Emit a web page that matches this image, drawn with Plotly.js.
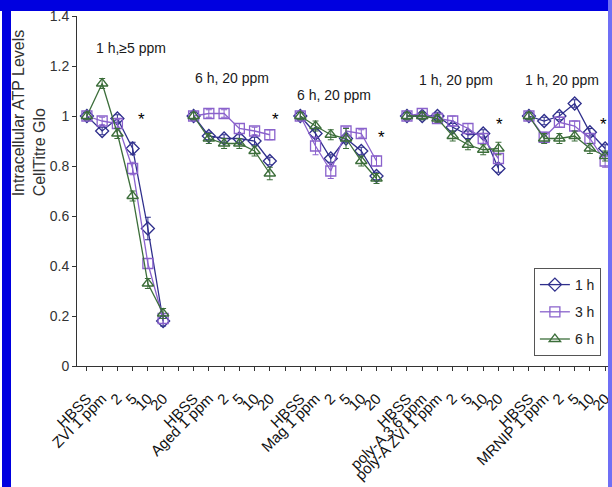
<!DOCTYPE html>
<html>
<head>
<meta charset="utf-8">
<script src="https://cdn.plot.ly/plotly-3.0.1.min.js"></script>
<style>
  html, body { margin: 0; padding: 0; background: #fff; }
  #wrap { position: relative; width: 612px; height: 487px; overflow: hidden; }
  #chart { position: absolute; left: 0; top: 0; width: 612px; height: 487px; }
  .bd { position: absolute; }
</style>
</head>
<body>
<div id="wrap">
  <div id="chart"></div>
  <div class="bd" style="left:0;top:0;width:612px;height:11px;background:#0000e0;"></div>
  <div class="bd" style="left:2px;top:0;width:9px;height:487px;background:#0000e0;"></div>
  <div class="bd" style="left:608px;top:0;width:4px;height:487px;background:#6f6ff5;"></div>
</div>
<script>
// Category tick labels ("" marks the empty slot between groups)
const categories = [
  "HBSS", "ZVI 1 ppm", "2", "5", "10", "20", "",
  "HBSS", "Aged 1 ppm", "2", "5", "10", "20", "",
  "HBSS", "Mag 1 ppm", "2", "5", "10", "20", "",
  "HBSS", "poly-A 3.6 ppm", "poly-A ZVI 1 ppm", "2", "5", "10", "20", "",
  "HBSS", "MRNIP 1 ppm", "2", "5", "10", "20"
];

// Series values (null = gap between groups)
const h1 = [1.00, 0.94, 0.99, 0.87, 0.55, 0.18, null,
            1.00, 0.92, 0.91, 0.91, 0.90, 0.82, null,
            1.00, 0.93, 0.83, 0.91, 0.86, 0.76, null,
            1.00, 1.00, 1.00, 0.955, 0.925, 0.93, 0.79, null,
            1.00, 0.98, 1.00, 1.05, 0.935, 0.87];
const h3 = [1.00, 0.98, 0.97, 0.79, 0.41, 0.19, null,
            1.00, 1.01, 1.01, 0.95, 0.94, 0.925, null,
            1.00, 0.88, 0.78, 0.94, 0.93, 0.82, null,
            1.00, 1.01, 0.99, 0.98, 0.95, 0.91, 0.83, null,
            1.00, 0.915, 0.975, 0.96, 0.91, 0.82];
const h6 = [1.00, 1.13, 0.93, 0.68, 0.33, 0.21, null,
            1.00, 0.91, 0.89, 0.89, 0.86, 0.77, null,
            1.00, 0.96, 0.925, 0.91, 0.82, 0.75, null,
            1.00, 1.00, 0.99, 0.92, 0.885, 0.865, 0.87, null,
            1.00, 0.91, 0.91, 0.92, 0.87, 0.84];

// Error bar half-widths
const e1 = [0.015, 0.015, 0.015, 0.025, 0.045, 0.02, null,
            0.015, 0.015, 0.015, 0.015, 0.015, 0.015, null,
            0.015, 0.015, 0.015, 0.015, 0.015, 0.015, null,
            0.015, 0.015, 0.015, 0.015, 0.015, 0.015, 0.015, null,
            0.015, 0.015, 0.015, 0.015, 0.015, 0.015];
const e3 = [0.015, 0.015, 0.015, 0.025, 0.02, 0.02, null,
            0.015, 0.015, 0.015, 0.02, 0.015, 0.02, null,
            0.015, 0.035, 0.03, 0.015, 0.015, 0.02, null,
            0.015, 0.02, 0.015, 0.02, 0.02, 0.02, 0.02, null,
            0.015, 0.02, 0.02, 0.02, 0.02, 0.025];
const e6 = [0.015, 0.02, 0.02, 0.02, 0.02, 0.02, null,
            0.015, 0.02, 0.02, 0.02, 0.02, 0.025, null,
            0.015, 0.02, 0.02, 0.04, 0.02, 0.02, null,
            0.015, 0.015, 0.015, 0.02, 0.02, 0.02, 0.025, null,
            0.015, 0.02, 0.02, 0.02, 0.02, 0.02];

const seriesNames = ["1 h", "3 h", "6 h"];

// Group titles and significance stars (positions in data units)
const groupTitles = ["1 h,\u22655 ppm", "6 h, 20 ppm", "6 h, 20 ppm", "1 h, 20 ppm", "1 h, 20 ppm"];
const groupTitleX = [2.86, 9.5, 16.2, 24.2, 31.2];
const groupTitleY = [1.272, 1.152, 1.084, 1.146, 1.146];
const starX = [3.55, 12.4, 19.3, 27.1, 33.9];
const starY = [0.985, 0.985, 0.915, 0.965, 0.965];

const xs = categories.map((c, i) => i);

const colors = ["#2f2f8c", "#8a62cc", "#3c6e3a"];
const symbols = ["diamond-open", "square-open", "triangle-up-open"];
const vals = [h1, h3, h6];
const errs = [e1, e3, e6];

const traces = vals.map((v, k) => ({
  type: "scatter",
  mode: "lines+markers",
  name: seriesNames[k],
  legendgroup: "g" + k,
  x: xs,
  y: v,
  connectgaps: false,
  line: { color: colors[k], width: 1.3 },
  marker: { symbol: symbols[k], size: 10, color: colors[k], line: { width: 1.3, color: colors[k] } },
  error_y: { type: "data", array: errs[k], visible: true, color: colors[k], thickness: 1, width: 3 }
}));

const FONT = "Liberation Sans, Arial, sans-serif";
const annotations = [];
groupTitles.forEach((t, i) => annotations.push({
  x: groupTitleX[i], y: groupTitleY[i], xref: "x", yref: "y", text: t, showarrow: false,
  font: { family: FONT, size: 14, color: "#1a1a1a" }
}));
starX.forEach((sx, i) => annotations.push({
  x: sx, y: starY[i], xref: "x", yref: "y", text: "*", showarrow: false,
  font: { family: FONT, size: 17, color: "#000" }
}));
annotations.push({
  xref: "paper", yref: "paper", x: -0.09, y: 0.48, xanchor: "center", yanchor: "bottom",
  textangle: -90, align: "left",
  text: "Intracellular ATP Levels<br>CellTitre Glo", showarrow: false,
  font: { family: FONT, size: 16, color: "#333" }
});

const layout = {
  width: 612, height: 487,
  margin: { l: 77, r: 0, t: 16, b: 121 },
  paper_bgcolor: "#fff", plot_bgcolor: "#fff",
  font: { family: FONT, size: 13, color: "#222" },
  xaxis: {
    range: [-0.65, 34.45], tickvals: xs, ticktext: categories, tickangle: -45,
    ticks: "outside", ticklen: 4, tickcolor: "#333", showline: true, linecolor: "#333", linewidth: 1,
    showgrid: false, zeroline: false, ticklabelstandoff: 13, ticklabeloverflow: "allow",
    tickfont: { family: FONT, size: 15, color: "#111" }
  },
  yaxis: {
    range: [0, 1.4], dtick: 0.2, tick0: 0,
    ticks: "outside", ticklen: 4, tickcolor: "#333", showline: true, linecolor: "#333", linewidth: 1,
    showgrid: false, zeroline: false,
    tickfont: { family: FONT, size: 14, color: "#333" }
  },
  showlegend: true,
  legend: {
    x: 0.854, y: 0.28, xanchor: "left", yanchor: "top",
    bgcolor: "#fff", bordercolor: "#555", borderwidth: 1,
    font: { family: FONT, size: 14, color: "#222" },
    tracegroupgap: 6, traceorder: "grouped"
  },
  annotations: annotations
};

Plotly.newPlot("chart", traces, layout, { displayModeBar: false, staticPlot: true });
</script>
</body>
</html>
